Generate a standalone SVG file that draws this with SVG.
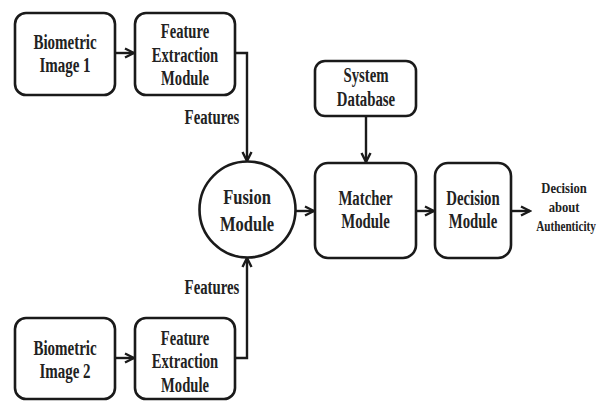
<svg xmlns="http://www.w3.org/2000/svg" width="597" height="401" viewBox="0 0 597 401">
<style>
.box{fill:#fff;stroke:#1a1a1a;stroke-width:2.6}
.t{font-family:"Liberation Serif","Times New Roman",serif;font-weight:bold;font-size:20px;fill:#222;text-anchor:middle}
.s{font-size:14px}
.f{font-size:22px}
.c{fill:none;stroke:#1a1a1a;stroke-width:2.4}
</style>
<defs>
<marker id="ah" markerUnits="userSpaceOnUse" markerWidth="12" markerHeight="12" refX="10" refY="6" orient="auto">
<path d="M1,1.5 L10,6 L1,10.5" fill="none" stroke="#1a1a1a" stroke-width="2.4"/>
</marker>
</defs>
<rect width="597" height="401" fill="#fff"/>
<g id="connectors">
<path class="c" d="M115,53 H134" marker-end="url(#ah)"/>
<path class="c" d="M235,53 H247 V161" marker-end="url(#ah)"/>
<path class="c" d="M115,358 H134" marker-end="url(#ah)"/>
<path class="c" d="M235,358 H247 V258" marker-end="url(#ah)"/>
<path class="c" d="M296,211 H314" marker-end="url(#ah)"/>
<path class="c" d="M366,116 V162" marker-end="url(#ah)"/>
<path class="c" d="M416,211 H434" marker-end="url(#ah)"/>
<path class="c" d="M511,211 H530" marker-end="url(#ah)"/>
<text class="t" transform="translate(212 124) scale(0.74 1)">Features</text>
<text class="t" transform="translate(212 294) scale(0.74 1)">Features</text>
</g>
<g id="bio1">
<rect class="box" x="15" y="13" width="100" height="82" rx="11"/>
<text class="t" transform="translate(65 49) scale(0.75 1)">Biometric</text>
<text class="t" transform="translate(65 72) scale(0.75 1)">Image 1</text>
</g>
<g id="fem1">
<rect class="box" x="135" y="13" width="100" height="82" rx="11"/>
<text class="t" transform="translate(185 38) scale(0.73 1)">Feature</text>
<text class="t" transform="translate(185 62) scale(0.73 1)">Extraction</text>
<text class="t" transform="translate(185 85) scale(0.73 1)">Module</text>
</g>
<g id="bio2">
<rect class="box" x="15" y="318" width="100" height="81" rx="11"/>
<text class="t" transform="translate(65 355) scale(0.75 1)">Biometric</text>
<text class="t" transform="translate(65 378) scale(0.75 1)">Image 2</text>
</g>
<g id="fem2">
<rect class="box" x="135" y="318" width="100" height="81" rx="11"/>
<text class="t" transform="translate(185 345) scale(0.73 1)">Feature</text>
<text class="t" transform="translate(185 368) scale(0.73 1)">Extraction</text>
<text class="t" transform="translate(185 392) scale(0.73 1)">Module</text>
</g>
<g id="fusion">
<circle class="box" cx="247.5" cy="209.5" r="48"/>
<text class="t f" transform="translate(247 204) scale(0.75 1)">Fusion</text>
<text class="t f" transform="translate(247 231) scale(0.75 1)">Module</text>
</g>
<g id="database">
<rect class="box" x="315" y="61" width="101" height="55" rx="10"/>
<text class="t" transform="translate(366 82) scale(0.74 1)">System</text>
<text class="t" transform="translate(366 106) scale(0.74 1)">Database</text>
</g>
<g id="matcher">
<rect class="box" x="315" y="163" width="101" height="95" rx="13"/>
<text class="t" transform="translate(365.5 205) scale(0.74 1)">Matcher</text>
<text class="t" transform="translate(365.5 228) scale(0.74 1)">Module</text>
</g>
<g id="decision">
<rect class="box" x="435" y="163" width="76" height="95" rx="13"/>
<text class="t" transform="translate(473 205) scale(0.74 1)">Decision</text>
<text class="t" transform="translate(473 228) scale(0.74 1)">Module</text>
</g>
<g id="outcome">
<text class="t s" transform="translate(564 193) scale(0.9 1)">Decision</text>
<text class="t s" transform="translate(564 212) scale(0.9 1)">about</text>
<text class="t s" transform="translate(566 231) scale(0.8 1)">Authenticity</text>
</g>
</svg>
